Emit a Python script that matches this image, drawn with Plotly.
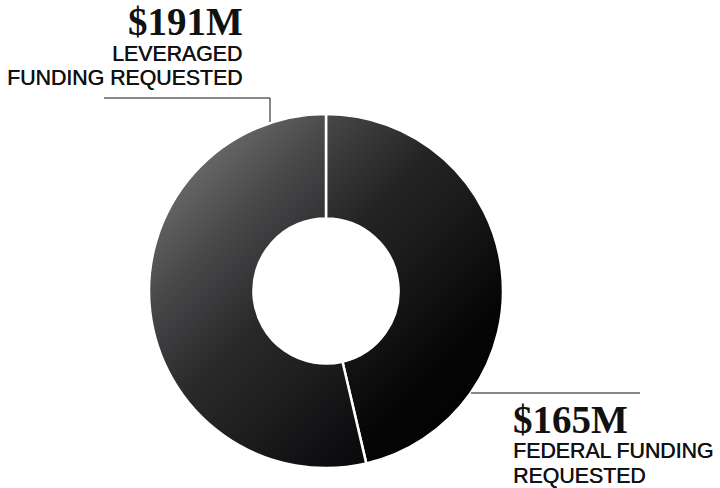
import base64
import plotly.graph_objects as go

# Funding breakdown (millions of dollars)
categories = ["Federal funding requested", "Leveraged funding requested"]
values_musd = [165, 191]
value_labels = ["$165M", "$191M"]
caption_lines = [["FEDERAL FUNDING", "REQUESTED"], ["LEVERAGED", "FUNDING REQUESTED"]]

W, H = 720, 488
# donut placement (paper fractions)
dom_x = [149 / W, 503 / W]
dom_y = [1 - 468 / H, 1 - 114 / H]

fig = go.Figure()
fig.add_trace(go.Pie(
    labels=categories,
    values=values_musd,
    hole=0.41,
    sort=False,
    direction="clockwise",
    rotation=0,
    marker=dict(colors=["#000000", "#060608"], line=dict(color="white", width=2.5)),
    textinfo="none",
    hoverinfo="label+value",
    showlegend=False,
    domain=dict(x=dom_x, y=dom_y),
))

# soft diagonal sheen: white fading out from the upper-left to the lower-right
stops = [(0.0, 0.48), (0.15, 0.38), (0.27, 0.27), (0.45, 0.14), (0.55, 0.11), (0.77, 0.02), (1.0, 0.0)]
stop_xml = "".join(
    f"<stop offset='{o}' stop-color='#ffffff' stop-opacity='{a}'/>" for o, a in stops
)
svg = (
    "<svg xmlns='http://www.w3.org/2000/svg' width='100' height='100' viewBox='0 0 100 100' "
    "preserveAspectRatio='none'><defs><linearGradient id='g' x1='0' y1='0' x2='1' y2='1'>"
    f"{stop_xml}</linearGradient></defs><rect width='100' height='100' fill='url(#g)'/></svg>"
)
sheen_src = "data:image/svg+xml;base64," + base64.b64encode(svg.encode()).decode()
fig.add_layout_image(dict(
    source=sheen_src, xref="paper", yref="paper",
    x=dom_x[0], y=dom_y[1], sizex=dom_x[1] - dom_x[0], sizey=dom_y[1] - dom_y[0],
    xanchor="left", yanchor="top", sizing="stretch", layer="above", opacity=1,
))

serif = "Liberation Serif"
sans = "Liberation Sans"
caption_font = dict(family=sans, size=21.3, color="#111111", shadow="0.45px 0 0 #111111")


def px(x):
    return x / W


def py(y):
    return 1 - y / H


# leveraged label block (upper left, right-aligned)
fig.add_annotation(x=px(245), y=py(21), text=f"<b>{value_labels[1]}</b>", showarrow=False,
                   xref="paper", yref="paper", xanchor="right", yanchor="middle",
                   font=dict(family=serif, size=39, color="#111111"))
for i, line in enumerate(caption_lines[1]):
    fig.add_annotation(x=px(244), y=py(54 + 24 * i), text=line, showarrow=False,
                       xref="paper", yref="paper", xanchor="right", yanchor="middle",
                       font=caption_font)

# federal label block (lower right, left-aligned)
fig.add_annotation(x=px(511), y=py(419), text=f"<b>{value_labels[0]}</b>", showarrow=False,
                   xref="paper", yref="paper", xanchor="left", yanchor="middle",
                   font=dict(family=serif, size=39, color="#111111"))
for i, line in enumerate(caption_lines[0]):
    fig.add_annotation(x=px(511), y=py(451 + 25 * i), text=line, showarrow=False,
                       xref="paper", yref="paper", xanchor="left", yanchor="middle",
                       font=caption_font)

# leader lines
fig.add_shape(type="path", xref="paper", yref="paper", layer="above",
              path=f"M {px(104)} {py(98)} L {px(270)} {py(98)} L {px(270)} {py(122)}",
              line=dict(color="#111111", width=1))
fig.add_shape(type="line", xref="paper", yref="paper", layer="above",
              x0=px(471), y0=py(393), x1=px(640), y1=py(393),
              line=dict(color="#111111", width=1))

fig.update_layout(
    width=W, height=H,
    margin=dict(l=0, r=0, t=0, b=0),
    paper_bgcolor="white", plot_bgcolor="white",
)

fig.write_html("out.html")
